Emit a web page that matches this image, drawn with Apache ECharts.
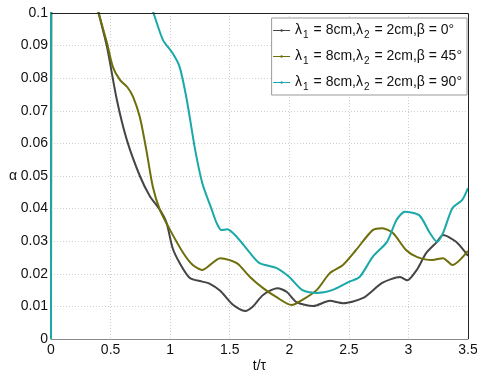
<!DOCTYPE html>
<html>
<head>
<meta charset="utf-8">
<script src="https://cdn.jsdelivr.net/npm/echarts@6/dist/echarts.min.js"></script>
<style>
  html, body { margin: 0; padding: 0; background: #fff; }
  #chart { width: 477px; height: 373px; }
</style>
</head>
<body>
<div id="chart"></div>
<script>
// Tick positions
const xTicks = [0, 0.5, 1, 1.5, 2, 2.5, 3, 3.5];
const yTicks = [0, 0.01, 0.02, 0.03, 0.04, 0.05, 0.06, 0.07, 0.08, 0.09, 0.1];

// α(t/τ) for beta = 0°
const beta0 = [
  [0, 0], [0.01, 0.2], [0.36, 0.106], [0.40, 0.1], [0.47, 0.0896], [0.553, 0.0733], [0.637, 0.061],
  [0.746, 0.050], [0.83, 0.0438], [0.914, 0.0396], [0.97, 0.0356], [1.02, 0.028], [1.08, 0.0233],
  [1.165, 0.0187], [1.27, 0.0176], [1.33, 0.0170], [1.42, 0.0148], [1.53, 0.0104], [1.63, 0.0086],
  [1.69, 0.0098], [1.78, 0.0135], [1.90, 0.0156], [1.98, 0.0144], [2.06, 0.0113], [2.2, 0.0101],
  [2.34, 0.0117], [2.45, 0.011], [2.62, 0.0126], [2.78, 0.0172], [2.93, 0.019], [2.99, 0.018],
  [3.07, 0.0212], [3.15, 0.0264], [3.24, 0.0298], [3.29, 0.0319], [3.40, 0.0298], [3.5, 0.0255]
];

// α(t/τ) for beta = 45°
const beta45 = [
  [0, 0], [0.01, 0.2], [0.36, 0.106], [0.40, 0.1], [0.47, 0.0908], [0.52, 0.0834], [0.58, 0.0794],
  [0.64, 0.0773], [0.69, 0.0742], [0.746, 0.068], [0.80, 0.058], [0.855, 0.0466], [0.914, 0.0396],
  [1.0, 0.0334], [1.11, 0.0264], [1.19, 0.0227], [1.27, 0.0212], [1.42, 0.0248],
  [1.5, 0.0242], [1.57, 0.0230], [1.67, 0.019], [1.78, 0.0156], [1.89, 0.0129], [2.02, 0.0104],
  [2.11, 0.012], [2.23, 0.015], [2.34, 0.0202], [2.45, 0.0227], [2.56, 0.0273], [2.70, 0.0334],
  [2.78, 0.034], [2.87, 0.0325], [2.98, 0.0273], [3.07, 0.0252], [3.2, 0.0242], [3.29, 0.0248],
  [3.37, 0.0227], [3.5, 0.0270]
];

// α(t/τ) for beta = 90°
const beta90 = [
  [0, 0], [0.01, 0.2], [0.8, 0.106], [0.86, 0.1], [0.94, 0.0917], [1.02, 0.0877], [1.08, 0.0834],
  [1.14, 0.0733], [1.21, 0.058], [1.27, 0.0478], [1.35, 0.0396], [1.39, 0.0356], [1.43, 0.0334],
  [1.48, 0.0337], [1.56, 0.0313], [1.67, 0.0264], [1.75, 0.0233], [1.89, 0.0218], [2.0, 0.019],
  [2.11, 0.015], [2.23, 0.0141], [2.36, 0.015], [2.5, 0.0175], [2.59, 0.019], [2.70, 0.0252],
  [2.82, 0.0298], [2.90, 0.0365], [2.97, 0.039], [3.09, 0.038], [3.18, 0.0325], [3.24, 0.0298],
  [3.29, 0.0325], [3.37, 0.0402], [3.45, 0.0426], [3.5, 0.0463]
];

const seriesNames = ['β = 0°', 'β = 45°', 'β = 90°'];
const seriesColors = ['#454545', '#6e6e0a', '#1aa8a8'];
const seriesData = [beta0, beta45, beta90];

const FONT = 'Liberation Sans, Arial, sans-serif';

const chart = echarts.init(document.getElementById('chart'), null, { renderer: 'canvas' });

chart.setOption({
  animation: false,
  backgroundColor: '#ffffff',
  grid: { left: 51, right: 9, top: 13, bottom: 34, containLabel: false, outerBoundsMode: 'none' },
  legend: {
    right: 10,
    top: 18,
    orient: 'vertical',
    backgroundColor: '#ffffff',
    borderColor: '#9a9a9a',
    borderWidth: 1,
    borderRadius: 0,
    padding: [3, 5, 3, 1],
    itemGap: 7,
    itemWidth: 17,
    itemHeight: 3,
    data: seriesNames,
    lineStyle: { width: 1 },
    formatter: function (name) {
      return '{a|λ}{s|1}{a| = 8cm,λ}{s|2}{a| = 2cm,' + name + '}';
    },
    textStyle: {
      fontFamily: FONT,
      fontSize: 14,
      color: '#111',
      rich: {
        a: { fontFamily: FONT, fontSize: 14, color: '#111', lineHeight: 18 },
        s: { fontFamily: FONT, fontSize: 10, color: '#111', padding: [9, 1, 0, 1], lineHeight: 18 }
      }
    }
  },
  xAxis: {
    type: 'value',
    min: 0,
    max: 3.5,
    interval: 0.5,
    name: 't/τ',
    nameLocation: 'middle',
    nameGap: 20,
    nameMoveOverlap: false,
    nameTextStyle: { fontFamily: FONT, fontSize: 14, color: '#111' },
    axisLine: { show: true, lineStyle: { color: '#8a8a8a', width: 1 } },
    axisTick: { show: false },
    axisLabel: {
      fontFamily: FONT, fontSize: 14, color: '#111', margin: 4,
      formatter: v => String(v)
    },
    splitLine: { show: true, lineStyle: { color: '#cfcfcf', type: [1, 2], width: 1 } }
  },
  yAxis: {
    type: 'value',
    min: 0,
    max: 0.1,
    interval: 0.01,
    name: 'α',
    nameLocation: 'middle',
    nameRotate: 0,
    nameGap: 34,
    nameMoveOverlap: false,
    nameTextStyle: { fontFamily: FONT, fontSize: 14, color: '#111' },
    axisLine: { show: true, lineStyle: { color: '#8a8a8a', width: 1 } },
    axisTick: { show: false },
    axisLabel: {
      fontFamily: FONT, fontSize: 14, color: '#111', margin: 3,
      formatter: v => String(+v.toFixed(2))
    },
    splitLine: { show: true, lineStyle: { color: '#cfcfcf', type: [1, 2], width: 1 } }
  },
  graphic: [
    // top and right frame of the plot area
    {
      type: 'polyline',
      z: 100,
      shape: { points: [[51, 13.5], [468.5, 13.5], [468.5, 339]] },
      style: { stroke: '#222', lineWidth: 1, fill: null }
    }
  ],
  series: seriesData.map((d, i) => ({
    name: seriesNames[i],
    type: 'line',
    data: d,
    smooth: 0.25,
    clip: true,
    symbol: 'circle',
    symbolSize: 2,
    showSymbol: false,
    lineStyle: { color: seriesColors[i], width: 2 },
    itemStyle: { color: seriesColors[i] }
  }))
});
</script>
</body>
</html>
